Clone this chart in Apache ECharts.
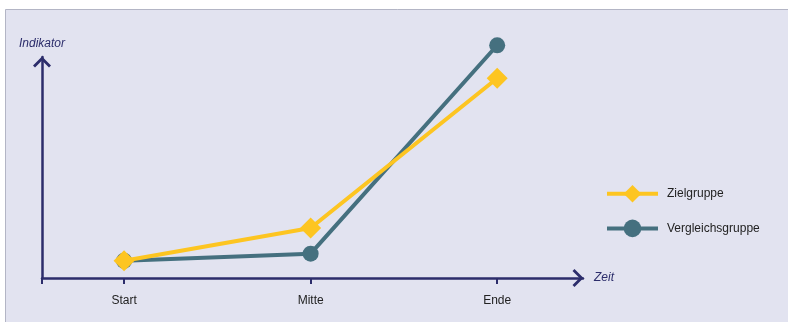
<!DOCTYPE html>
<html>
<head>
<meta charset="utf-8">
<script src="https://cdn.jsdelivr.net/npm/echarts@6/dist/echarts.min.js"></script>
<style>
  html, body { margin: 0; padding: 0; background: #ffffff; }
  #chart { width: 788px; height: 322px; }
</style>
</head>
<body>
<div id="chart"></div>
<script>
// Zeitpunkte auf der x-Achse (als Positionen 1..3 auf einer Werteachse)
const categories = ['Start', 'Mitte', 'Ende'];
const positions = [1, 2, 3];

// Indikatorwerte je Gruppe
const zielgruppe = [7.8, 22.6, 90.4];
const vergleichsgruppe = [7.8, 11.0, 105.3];

const NAVY = '#2c2d6b';
const YELLOW = '#fdc521';
const TEAL = '#45707f';

// offener Pfeilkopf (Chevron), zeigt nach oben
const chevron = 'path://M0,9 L9,0 L18,9 L16,11 L9,4 L2,11 Z';

const xMin = 0.56;
const xMax = 3.46;

const chart = echarts.init(document.getElementById('chart'), null, { renderer: 'canvas' });

chart.setOption({
  animation: false,
  textStyle: { fontFamily: '"Liberation Sans", Arial, sans-serif' },
  graphic: [{
    type: 'rect',
    z: -10,
    silent: true,
    shape: { x: 5.5, y: 9.5, width: 900, height: 400 },
    style: { fill: '#e2e3f0', stroke: '#b3b5c5', lineWidth: 1 }
  }],
  grid: {
    left: 42,
    right: 205,
    top: 57,
    bottom: 44,
    outerBoundsMode: 'none'
  },
  legend: {
    orient: 'vertical',
    left: 600,
    top: 180,
    itemWidth: 51,
    itemHeight: 22,
    itemGap: 17,
    lineStyle: { width: 4 },
    textStyle: { fontSize: 12, color: '#222222', padding: [0, 0, 0, 4] },
    data: ['Zielgruppe', 'Vergleichsgruppe']
  },
  xAxis: {
    type: 'value',
    min: xMin,
    max: xMax,
    name: 'Zeit',
    nameLocation: 'end',
    nameGap: 11,
    nameTextStyle: { fontStyle: 'italic', fontSize: 12, color: NAVY },
    splitLine: { show: false },
    axisLine: {
      show: true,
      onZero: false,
      symbol: ['none', chevron],
      symbolSize: [18, 11],
      symbolOffset: [0, -5],
      lineStyle: { color: NAVY, width: 2.5 }
    },
    axisTick: {
      show: true,
      length: 6,
      customValues: [xMin].concat(positions),
      lineStyle: { color: NAVY, width: 2 }
    },
    axisLabel: {
      show: true,
      margin: 17,
      fontSize: 12,
      color: '#222222',
      customValues: positions,
      formatter: function (v) {
        const i = positions.indexOf(Math.round(v));
        return i >= 0 ? categories[i] : '';
      }
    }
  },
  yAxis: {
    type: 'value',
    min: 0,
    max: 100,
    name: 'Indikator',
    nameLocation: 'end',
    nameGap: 7,
    nameTextStyle: { fontStyle: 'italic', fontSize: 12, color: NAVY, align: 'center' },
    splitLine: { show: false },
    axisTick: { show: false },
    axisLabel: { show: false },
    axisLine: {
      show: true,
      onZero: false,
      symbol: ['none', chevron],
      symbolSize: [18, 11],
      symbolOffset: [0, -5],
      lineStyle: { color: NAVY, width: 2.5 }
    }
  },
  series: [
    {
      name: 'Zielgruppe',
      type: 'line',
      z: 3,
      clip: false,
      data: positions.map((p, i) => [p, zielgruppe[i]]),
      symbol: 'diamond',
      symbolSize: 21,
      lineStyle: { color: YELLOW, width: 4 },
      itemStyle: { color: YELLOW }
    },
    {
      name: 'Vergleichsgruppe',
      type: 'line',
      z: 2,
      clip: false,
      data: positions.map((p, i) => [p, vergleichsgruppe[i]]),
      symbol: 'circle',
      symbolSize: 16,
      lineStyle: { color: TEAL, width: 4 },
      itemStyle: { color: TEAL }
    }
  ]
});
</script>
</body>
</html>
